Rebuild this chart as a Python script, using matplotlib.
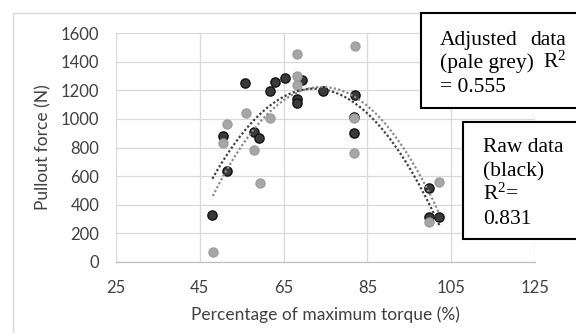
import numpy as np
import matplotlib
matplotlib.use("Agg")
import matplotlib.pyplot as plt
from matplotlib.patches import Rectangle

plt.rcParams["mathtext.fontset"] = "custom"
plt.rcParams["mathtext.rm"] = "Liberation Serif"
plt.rcParams["mathtext.it"] = "Liberation Serif:italic"

# ---- data ----
raw_x = [48.0, 50.6, 51.6, 55.8, 58.0, 59.2, 61.8, 63.0, 65.3, 69.3, 68.1, 68.1, 74.5, 82.0, 81.8, 81.8, 99.8, 99.8, 102.2]
raw_y = [330, 880, 635, 1248, 906, 864, 1198, 1258, 1284, 1270, 1142, 1113, 1198, 1167, 1015, 899, 515, 314, 314]

adj_x = [48.1, 51.4, 50.6, 56.0, 57.9, 59.4, 61.8, 68.1, 68.1, 68.1, 82.0, 81.8, 81.8, 102.2, 99.8]
adj_y = [72, 964, 834, 1039, 783, 554, 1004, 1450, 1300, 1240, 1511, 1003, 760, 556, 278]

x_ticks = [25, 45, 65, 85, 105, 125]
y_ticks = [0, 200, 400, 600, 800, 1000, 1200, 1400, 1600]

x_label = "Percentage of maximum torque (%)"
y_label = "Pullout force (N)"
box1_lines = [("Adjusted", "data"), ("(pale grey)", r"R$^{2}$"), ("= 0.555", None)]
box2_lines = ["Raw data", "(black)", r"R$^{2}$=", "0.831"]

W, H = 576, 333
fig = plt.figure(figsize=(W / 100, H / 100), dpi=100)
sans = ["Lato", "DejaVu Sans"]
serif = ["Liberation Serif", "DejaVu Serif"]

L, R, T, B = 116, 535, 33, 262
ax = fig.add_axes([L / W, 1 - B / H, (R - L) / W, (B - T) / H])
ax.set_xlim(25, 125)
ax.set_ylim(0, 1600)
ax.set_xticks(x_ticks)
ax.set_yticks(y_ticks)
ax.grid(True, color="#d9d9d9", linewidth=0.9)
ax.set_axisbelow(True)
for s in ["top", "left", "right"]:
    ax.spines[s].set_visible(False)
ax.spines["bottom"].set_color("#bfbfbf")
ax.spines["bottom"].set_linewidth(0.9)
ax.tick_params(length=0, labelcolor="#404040", labelsize=12)
ax.tick_params(axis="y", pad=12)
ax.tick_params(axis="x", pad=13)
for lab in ax.get_xticklabels() + ax.get_yticklabels():
    lab.set_family(sans)

# markers
ax.scatter(raw_x, raw_y, s=44, facecolor="#3a3a3a", edgecolor="#111111", linewidth=1.0, zorder=3)
ax.scatter(adj_x, adj_y, s=44, facecolor="#a6a6a6", edgecolor="#9a9a9a", linewidth=0.8, zorder=4)

# polynomial (order 2) trendlines
for xs, ys, col in [(adj_x, adj_y, "#8c8c8c"), (raw_x, raw_y, "#404040")]:
    c = np.polyfit(xs, ys, 2)
    xx = np.linspace(min(xs), max(xs), 200)
    ax.plot(xx, np.polyval(c, xx), color=col, linestyle=(0, (1, 1.0)), linewidth=1.6, zorder=5)

# axis titles
fig.text(325 / W, 1 - 315 / H, x_label, ha="center", va="center", fontsize=12.5, color="#404040", family=sans)
fig.text(43 / W, 1 - 147 / H, y_label, ha="center", va="center", rotation=90, fontsize=12.5, color="#404040", family=sans)

# chart-area border
fig.add_artist(Rectangle((13 / W, -0.05), 1.0, 1.05 - 13 / H, transform=fig.transFigure,
                         facecolor="none", edgecolor="#d9d9d9", linewidth=1.0, zorder=0.5))

# text boxes
fig.add_artist(Rectangle((421 / W, 1 - 108 / H), 0.5, 95 / H, transform=fig.transFigure,
                         facecolor="white", edgecolor="black", linewidth=1.5, zorder=10))
fig.add_artist(Rectangle((463 / W, 1 - 239 / H), 0.5, 117 / H, transform=fig.transFigure,
                         facecolor="white", edgecolor="black", linewidth=1.5, zorder=10))

fs = 15.5
for (left, right), base in zip(box1_lines, [45, 68, 92]):
    fig.text(440 / W, 1 - base / H, left, ha="left", va="baseline", fontsize=fs, family=serif, zorder=11)
    if right:
        fig.text(566 / W, 1 - base / H, right, ha="right", va="baseline", fontsize=fs, family=serif, zorder=11)
for line, base in zip(box2_lines, [152, 176, 200, 224]):
    fig.text(483 / W, 1 - base / H, line, ha="left", va="baseline", fontsize=fs, family=serif, zorder=11)

fig.savefig("out.png", dpi=100)
